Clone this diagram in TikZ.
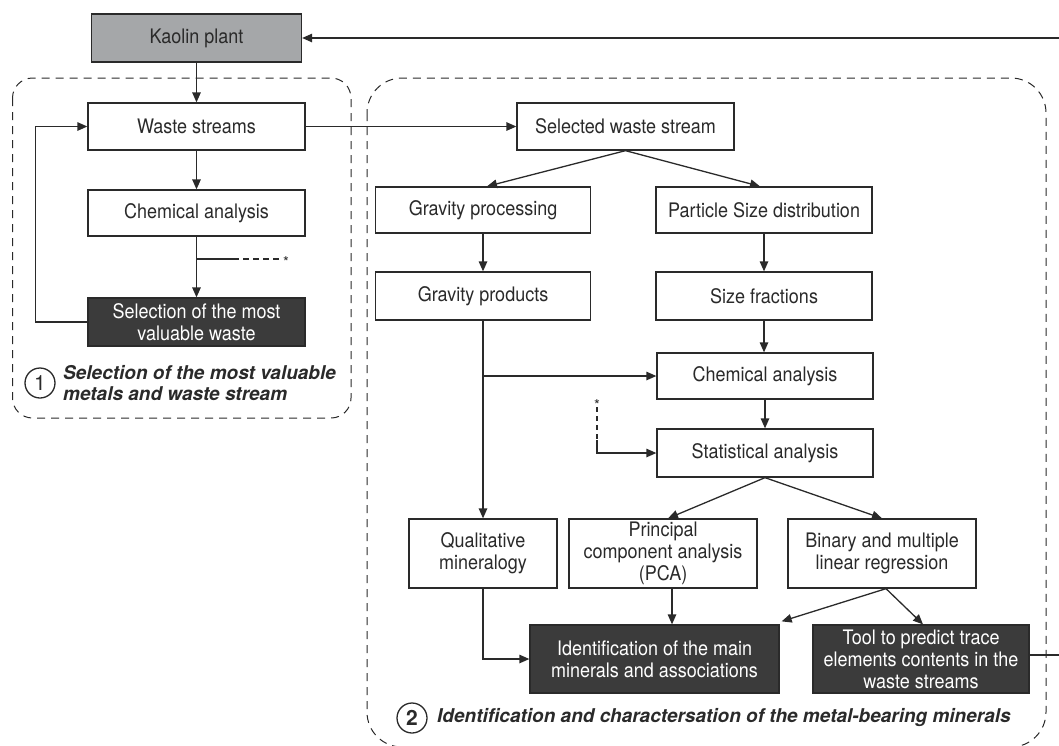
\documentclass[tikz,border=0pt]{standalone}
\usepackage{fontspec}
\setmainfont{TeX Gyre Heros}[FakeStretch=0.9]
\newfontfamily\lblfont{TeX Gyre Heros}
\usetikzlibrary{arrows.meta,calc}
\definecolor{lc}{HTML}{2A2A2A}
\definecolor{darkc}{HTML}{3B3B3B}
\definecolor{grayc}{HTML}{A5A7A9}
\newcommand\bxfont{\fontsize{20}{22}\selectfont}
\begin{document}
\begin{tikzpicture}[x=1pt,y=-1pt,
  box/.style={draw=lc, line width=1.3pt, fill=white, text=lc, align=center, inner sep=0pt, font=\bxfont},
  darkbox/.style={box, fill=darkc, text=white},
  graybox/.style={box, fill=grayc},
  sz/.style 2 args={minimum width=#1pt, minimum height=#2pt},
  conn/.style={draw=lc, line width=1.3pt},
  arr/.style={conn, -{Triangle[length=10pt,width=8.5pt]}},
  group/.style={draw=lc, line width=1pt, dash pattern=on 8pt off 6pt},
  smalldash/.style={conn, dash pattern=on 6pt off 4pt},
  num/.style={circle, draw=lc, line width=1.3pt, minimum size=30pt, inner sep=0pt, text=lc, font=\lblfont\fontsize{21}{22}\selectfont},
  lbl/.style={anchor=west, align=left, inner sep=0pt, text=lc, font=\lblfont\bfseries\itshape\fontsize{19}{21.5}\selectfont},
  ast/.style={inner sep=0pt, text=lc, font=\lblfont\fontsize{15}{15}\selectfont}
]
\useasboundingbox (0,0) rectangle (1059,745);

% groups
\draw[group, rounded corners=20pt] (12.5,78) rectangle (351,418);
\draw[group, rounded corners=35pt] (367,78) rectangle (1046,747);

% nodes
\node[graybox, sz={210}{48}] (kaolin) at (196.5,38) {Kaolin plant};
\node[box, sz={217}{47}] (waste) at (196.5,126.5) {Waste streams};
\node[box, sz={217}{46}] (chem1) at (196.5,213) {Chemical analysis};
\node[darkbox, sz={217}{48}] (sel) at (196.5,322) {Selection of the most\\valuable waste};

\node[box, sz={217}{47}] (selws) at (625.5,126.5) {Selected waste stream};
\node[box, sz={215}{46}] (grav) at (483,210) {Gravity processing};
\node[box, sz={216}{46}] (psd) at (764,210) {Particle Size distribution};
\node[box, sz={215}{48}] (gprod) at (483,296) {Gravity products};
\node[box, sz={216}{48}] (sfrac) at (764,296) {Size fractions};
\node[box, sz={216}{46}] (chem2) at (765,376) {Chemical analysis};
\node[box, sz={216}{48}] (stat) at (765,453) {Statistical analysis};
\node[box, sz={148}{69}] (qual) at (483,553.5) {Qualitative\\mineralogy};
\node[box, sz={188}{69}] (pca) at (663,553.5) {Principal\\component analysis\\(PCA)};
\node[box, sz={188}{69}] (bin) at (882,553.5) {Binary and multiple\\linear regression};
\node[darkbox, sz={249}{68}] (ident) at (654.5,659) {Identification of the main\\minerals and associations};
\node[darkbox, sz={216}{68}] (tool) at (921,659) {Tool to predict trace\\elements contents in the\\waste streams};

% labels
\node[num] (c1) at (40,383) {1};
\node[lbl] (l1) at (63,383) {Selection of the most valuable\\metals and waste stream};
\node[num, font=\lblfont\bfseries\fontsize{21}{22}\selectfont] (c2) at (412,718) {2};
\node[lbl] (l2) at (437,718) {Identification and charactersation of the metal-bearing minerals};

% connectors part 1
\draw[arr] (kaolin) -- (waste);
\draw[arr] (waste) -- (chem1);
\draw[arr] (chem1) -- (sel);
\draw[arr] (sel.west) -- ++(-52,0) |- (waste.west);
\coordinate (b1) at (196.5,259);
\coordinate (b2) at (233,259);
\coordinate (b2e) at (280,259);
\draw[conn] (b1) -- (b2);
\draw[smalldash] (b2) -- (b2e);
\node[ast] (ast1) at (286,262) {*};

% connectors part 2
\draw[arr] (waste.east) -- (selws.west);
\draw[arr] (selws.south) -- ([xshift=4pt]grav.north);
\draw[arr] (selws.south) -- ([xshift=-4pt]psd.north);
\draw[arr] (grav) -- (gprod);
\draw[arr] (psd) -- (sfrac);
\draw[arr] (sfrac.south) -- (sfrac.south |- chem2.north);
\draw[arr] (chem2) -- (stat);
\draw[arr] (gprod.south) -- (qual.north);
\coordinate (b3) at (483,376);
\draw[arr] (b3) -- (chem2.west);
\node[ast] (ast2) at (597,405) {*};
\coordinate (d1) at (597,407);
\coordinate (d2) at (597,440);
\draw[smalldash, dash pattern=on 5pt off 4pt] (d1) -- (d2);
\draw[arr] (d2) |- (stat.west);
\draw[arr] (stat.south) -- ([xshift=5pt]pca.north);
\draw[arr] (stat.south) -- (bin.north);
\draw[arr] (qual.south) |- (ident.west);
\draw[arr] ([xshift=9pt]pca.south) -- ([xshift=9pt]pca.south |- ident.north);
\draw[arr] ([xshift=4pt]bin.south) -- ([xshift=2pt,yshift=3pt]ident.north east);
\draw[arr] ([xshift=4pt]bin.south) -- ([xshift=2pt]tool.north);
\coordinate (rr) at (1066,0);
\draw[arr] ([yshift=4pt]tool.east) -- ([yshift=4pt]tool.east -| rr) -- (rr |- kaolin.east) -- (kaolin.east);
\end{tikzpicture}
\end{document}
